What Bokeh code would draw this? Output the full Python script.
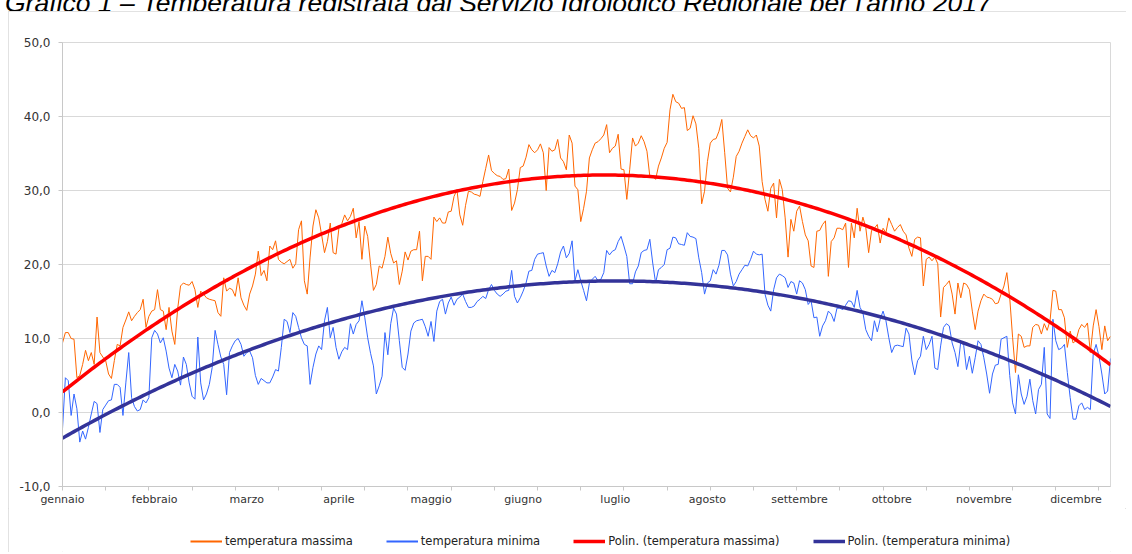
import numpy as np
import pandas as pd
from bokeh.plotting import figure
from bokeh.layouts import column
from bokeh.models import Range1d, FixedTicker, Legend, LegendItem, Div
from bokeh.embed import file_html
from bokeh.resources import INLINE

title_text = "Grafico 1 \u2013 Temperatura registrata dal Servizio Idrologico Regionale per l'anno 2017"
mesi = ["gennaio", "febbraio", "marzo", "aprile", "maggio", "giugno",
        "luglio", "agosto", "settembre", "ottobre", "novembre", "dicembre"]
series_names = ["temperatura massima", "temperatura minima",
                "Polin. (temperatura massima)", "Polin. (temperatura minima)"]
y_ticks = [-10, 0, 10, 20, 30, 40, 50]

tmax = [
    9.4, 10.8, 10.8, 10.0, 9.9, 4.7, 5.0, 6.5, 8.4, 7.0,
    8.1, 6.5, 12.9, 8.1, 7.5, 7.0, 5.2, 4.6, 7.0, 9.2,
    9.0, 11.5, 12.5, 13.6, 12.4, 13.0, 13.5, 13.9, 15.3, 11.5,
    13.0, 13.7, 13.9, 16.6, 13.9, 13.7, 11.2, 14.2, 11.0, 9.2,
    14.0, 17.1, 17.5, 17.3, 17.2, 17.7, 16.6, 14.2, 16.4, 16.0,
    15.5, 15.3, 15.2, 15.1, 13.5, 13.0, 18.2, 16.4, 16.8, 16.6,
    15.7, 18.2, 15.5, 14.5, 13.8, 16.0, 17.1, 18.7, 21.8, 18.5,
    19.2, 17.8, 22.5, 22.0, 23.2, 20.7, 20.3, 20.1, 20.4, 20.7,
    19.5, 20.1, 24.7, 25.9, 17.8, 16.0, 21.0, 25.2, 27.4, 26.3,
    24.0, 21.6, 23.1, 25.6, 21.6, 21.4, 24.9, 25.5, 26.7, 25.9,
    26.5, 27.6, 23.6, 25.8, 20.7, 25.2, 23.8, 20.0, 16.5, 17.3,
    19.8, 19.5, 21.1, 23.7, 21.5, 20.2, 20.5, 17.3, 19.1, 21.7,
    20.6, 21.8, 22.0, 22.0, 24.5, 17.8, 21.1, 21.1, 20.7, 26.4,
    25.8, 26.3, 25.6, 25.6, 27.1, 27.2, 29.2, 30.1, 26.7, 25.3,
    28.0, 29.9, 29.8, 29.5, 29.4, 29.2, 31.2, 33.0, 34.8, 32.7,
    32.3, 32.0, 31.9, 31.5, 31.6, 32.9, 27.3, 28.3, 30.1, 33.1,
    33.3, 34.5, 36.2, 35.5, 35.1, 35.5, 36.3, 35.1, 30.0, 35.8,
    35.3, 35.5, 36.9, 34.4, 33.9, 32.8, 37.5, 36.4, 30.6, 30.1,
    25.8, 27.6, 29.9, 34.4, 35.5, 36.4, 36.6, 37.0, 37.5, 38.9,
    35.1, 35.7, 36.0, 37.6, 32.9, 32.8, 28.8, 32.8, 37.1, 36.0,
    36.4, 37.4, 36.6, 35.3, 31.9, 31.9, 31.5, 33.3, 34.4, 35.7,
    36.5, 40.9, 43.0, 42.0, 41.8, 41.1, 41.2, 38.1, 38.4, 40.1,
    39.0, 35.7, 28.2, 29.9, 33.9, 36.4, 36.9, 37.0, 38.0, 39.6,
    35.1, 30.3, 29.8, 31.8, 34.6, 35.3, 36.4, 37.3, 38.2, 37.4,
    37.1, 37.5, 36.0, 31.2, 28.8, 27.2, 30.3, 31.0, 26.3, 31.5,
    30.1, 26.3, 21.0, 26.1, 24.5, 27.2, 27.9, 25.8, 24.0, 23.2,
    19.8, 19.6, 24.5, 24.6, 25.4, 25.9, 18.4, 23.1, 23.6, 24.9,
    24.9, 24.7, 25.6, 19.6, 25.6, 23.6, 27.6, 24.5, 26.4, 25.0,
    21.6, 24.6, 24.9, 25.4, 22.9, 24.9, 24.3, 26.3, 25.4, 24.5,
    25.0, 25.4, 24.5, 24.0, 22.2, 21.1, 23.4, 23.7, 23.6, 17.1,
    20.7, 21.0, 20.5, 21.0, 20.1, 12.9, 16.9, 17.3, 17.8, 16.0,
    13.3, 17.5, 15.5, 17.5, 17.3, 16.6, 13.7, 11.2, 13.7, 15.1,
    16.0, 15.6, 15.5, 15.3, 14.7, 14.8, 16.0, 17.1, 18.9, 15.5,
    10.1, 5.4, 10.6, 10.3, 8.8, 9.0, 9.0, 11.5, 11.9, 11.8,
    10.6, 12.0, 11.1, 12.4, 16.5, 16.4, 13.9, 13.9, 12.8, 8.8,
    11.0, 9.4, 9.7, 11.2, 11.9, 11.5, 12.1, 8.1, 11.7, 13.9,
    11.6, 8.5, 11.7, 9.7, 10.3,
]

tmin = [
    -2.2, 4.7, 4.3, -0.4, 2.5, 0.5, -4.0, -2.5, -3.6, -2.0,
    -0.2, 1.5, 1.2, -2.7, 0.4, 1.0, 1.6, 1.7, 3.8, 3.8,
    3.4, -0.4, 4.0, 8.1, 2.0, 0.8, 0.2, 0.4, 1.7, 1.3,
    2.0, 10.1, 11.1, 10.6, 9.4, 10.1, 8.3, 6.0, 4.7, 6.5,
    5.6, 3.7, 7.5, 6.5, 4.0, 2.2, 1.8, 10.2, 4.0, 1.7,
    2.5, 3.8, 6.1, 11.1, 9.2, 7.5, 6.5, 2.4, 8.1, 9.0,
    9.7, 10.0, 9.2, 7.6, 8.1, 8.3, 7.4, 5.0, 3.8, 4.6,
    4.3, 4.0, 4.0, 4.8, 5.8, 5.6, 8.8, 12.6, 12.3, 10.8,
    13.5, 13.0, 11.5, 10.1, 9.2, 9.0, 3.8, 6.1, 7.9, 9.0,
    8.5, 12.4, 14.2, 10.1, 11.5, 8.8, 7.2, 8.2, 8.8, 8.5,
    12.0, 10.6, 11.9, 12.4, 15.1, 12.8, 10.1, 8.0, 6.3, 2.5,
    3.6, 4.9, 10.8, 7.8, 12.0, 14.1, 13.3, 9.7, 6.1, 5.7,
    7.9, 11.0, 12.1, 12.4, 12.5, 12.6, 11.6, 10.3, 12.3, 9.6,
    13.7, 15.0, 15.3, 13.3, 14.8, 15.6, 14.5, 15.3, 15.6, 16.0,
    15.0, 14.2, 14.2, 14.4, 15.0, 15.3, 15.7, 15.4, 16.6, 17.3,
    16.5, 16.0, 15.7, 16.0, 16.4, 16.5, 19.2, 15.7, 14.8, 15.5,
    16.4, 17.5, 19.1, 19.2, 20.7, 21.4, 21.5, 21.6, 19.8, 18.4,
    19.2, 18.9, 20.1, 21.7, 22.5, 20.9, 21.5, 23.2, 17.8, 19.3,
    17.8, 16.5, 15.1, 17.5, 18.0, 18.4, 17.8, 18.0, 18.9, 21.9,
    21.3, 21.8, 22.0, 23.1, 23.8, 22.5, 21.1, 17.4, 17.4, 19.0,
    19.8, 21.6, 21.9, 22.0, 23.4, 20.2, 17.5, 19.3, 19.6, 20.0,
    22.0, 22.2, 23.7, 23.6, 22.8, 22.7, 22.6, 24.3, 23.8, 23.7,
    23.5, 20.9, 18.9, 16.0, 17.5, 17.8, 19.3, 18.7, 19.9, 21.9,
    21.9, 21.3, 18.7, 17.1, 17.7, 18.7, 19.3, 19.9, 19.8, 20.7,
    21.8, 21.4, 21.3, 21.4, 16.0, 14.5, 13.7, 16.6, 18.2, 18.7,
    18.5, 18.2, 16.9, 17.7, 17.5, 16.0, 17.8, 17.5, 16.6, 14.6,
    15.1, 12.8, 12.9, 10.3, 11.7, 12.4, 13.7, 13.3, 12.3, 14.1,
    14.1, 13.9, 14.5, 15.1, 15.0, 14.2, 16.5, 14.2, 13.5, 11.2,
    10.3, 9.7, 12.4, 10.9, 12.6, 13.7, 12.4, 10.1, 8.1, 9.0,
    9.1, 9.0, 8.9, 11.4, 10.6, 7.1, 5.1, 7.0, 7.6, 10.3,
    8.5, 9.2, 10.3, 6.0, 5.8, 9.0, 11.5, 12.0, 11.7, 9.4,
    8.1, 6.2, 9.6, 9.1, 5.8, 7.6, 5.3, 7.4, 9.7, 9.2,
    7.4, 5.2, 2.6, 5.2, 6.4, 6.5, 9.9, 10.1, 10.3, 5.0,
    1.3, -0.2, 5.1, 2.5, 1.1, 2.2, 4.5, 1.6, -0.2, 3.1,
    3.8, 8.8, -0.2, -0.8, 12.6, 9.7, 8.5, 8.7, 9.2, 5.4,
    2.0, -0.9, -0.9, 0.9, 1.3, 0.4, 0.7, 0.4, 7.9, 9.2,
    7.6, 5.2, 2.5, 2.9, 7.3,
]

n = min(len(tmax), len(tmin))
tmax = tmax[:n]
tmin = tmin[:n]
dates = pd.date_range("2017-01-01", periods=n, freq="D")
idx = np.arange(n)

# polynomial (order 2) trend lines, as in the spreadsheet
trend_max = np.polyval(np.polyfit(idx, tmax, 2), idx)
trend_min = np.polyval(np.polyfit(idx, tmin, 2), idx)

label_days = list(range(0, n, 32))
tick_days = list(range(0, n, 15))

FONT = "DejaVu Sans"
FRAME_W, FRAME_H = 1048, 446
LEFT, RIGHT, TOP, BOTTOM = 54, 16, 31, 20
W = LEFT + FRAME_W + RIGHT
H = TOP + FRAME_H + BOTTOM
LEG_H = 44
TITLE_H = 11

colors = ["#ff6600", "#3366ff", "#ff0000", "#333399"]
widths = [1, 1, 3.5, 3.5]
legend_widths = [2, 2, 3.5, 3.5]

p = figure(width=W, height=H, x_range=Range1d(0, n - 1),
           y_range=Range1d(y_ticks[0], y_ticks[-1]),
           output_backend="svg", toolbar_location=None,
           min_border_left=LEFT, min_border_right=RIGHT,
           min_border_top=TOP, min_border_bottom=BOTTOM)
p.background_fill_color = "white"
p.border_fill_color = "white"
p.outline_line_color = "#d9d9d9"
p.outline_line_width = 1

# grid
p.xgrid.visible = False
p.ygrid.ticker = FixedTicker(ticks=y_ticks)
p.ygrid.grid_line_color = "#d9d9d9"
p.ygrid.grid_line_width = 1

# y axis
p.yaxis.ticker = FixedTicker(ticks=y_ticks)
p.yaxis.major_label_overrides = {v: f"{v:.1f}".replace(".", ",") for v in y_ticks}
p.yaxis.axis_line_color = "#c8c8c8"
p.yaxis.major_tick_line_color = "#c8c8c8"
p.yaxis.major_tick_out = 4
p.yaxis.major_tick_in = 0
p.yaxis.minor_tick_line_color = None
p.yaxis.major_label_standoff = 8
p.yaxis.major_label_text_font = FONT
p.yaxis.major_label_text_font_size = "12px"
p.yaxis.major_label_text_color = "#333333"

# x axis: labels every 32 days, tick marks every 15 days
p.xaxis.ticker = FixedTicker(ticks=label_days, minor_ticks=tick_days)
p.xaxis.major_label_overrides = {d: mesi[dates[d].month - 1] for d in label_days}
p.xaxis.axis_line_color = "#c8c8c8"
p.xaxis.major_tick_out = 0
p.xaxis.major_tick_in = 0
p.xaxis.major_tick_line_color = None
p.xaxis.minor_tick_out = 4
p.xaxis.minor_tick_in = 0
p.xaxis.minor_tick_line_color = "#c8c8c8"
p.xaxis.major_label_standoff = 2
p.xaxis.major_label_text_font = FONT
p.xaxis.major_label_text_font_size = "11px"
p.xaxis.major_label_text_color = "#333333"

for ys, c, w in zip([tmax, tmin, trend_max, trend_min], colors, widths):
    p.line(idx, ys, line_color=c, line_width=w)

# legend strip below the chart (frame aligned with the chart's frame)
pl = figure(width=W, height=LEG_H, x_range=Range1d(0, 1), y_range=Range1d(0, 1),
            x_axis_type=None, y_axis_type=None, output_backend="svg",
            toolbar_location=None, min_border=0, min_border_left=0,
            min_border_right=0, min_border_top=0, min_border_bottom=0)
pl.outline_line_color = None
pl.grid.visible = False
pl.background_fill_color = "white"
pl.border_fill_color = "white"
empty = np.array([np.nan])
leg_renderers = [pl.line(x=empty, y=empty, line_color=c, line_width=w)
                 for c, w in zip(colors, legend_widths)]
legend = Legend(items=[LegendItem(label=name, renderers=[r])
                       for name, r in zip(series_names, leg_renderers)],
                orientation="horizontal", location=(128, 4),
                padding=0, margin=0, spacing=33, label_standoff=3,
                glyph_width=32, glyph_height=14, label_height=14,
                label_text_font=FONT, label_text_font_size="11.5px",
                label_text_color="#222222",
                border_line_color=None, background_fill_alpha=0)
pl.add_layout(legend)

chart_box = column(p, pl, spacing=0,
                   styles={"margin-left": "8px", "outline": "1px solid #d9d9d9",
                           "outline-offset": "-1px"})

title_div = Div(
    text=('<div style="font-family: \'Liberation Sans\', Arial, sans-serif; '
          'font-style: italic; font-size: 26.5px; line-height: 27px; '
          'white-space: nowrap; margin-top: -16px; padding-left: 5px; color: #000;">'
          + title_text + '</div>'),
    width=1132, height=TITLE_H, margin=0, styles={"overflow": "hidden"})

layout = column(title_div, chart_box, spacing=0)

open("out.html", "w").write(file_html(layout, INLINE))
